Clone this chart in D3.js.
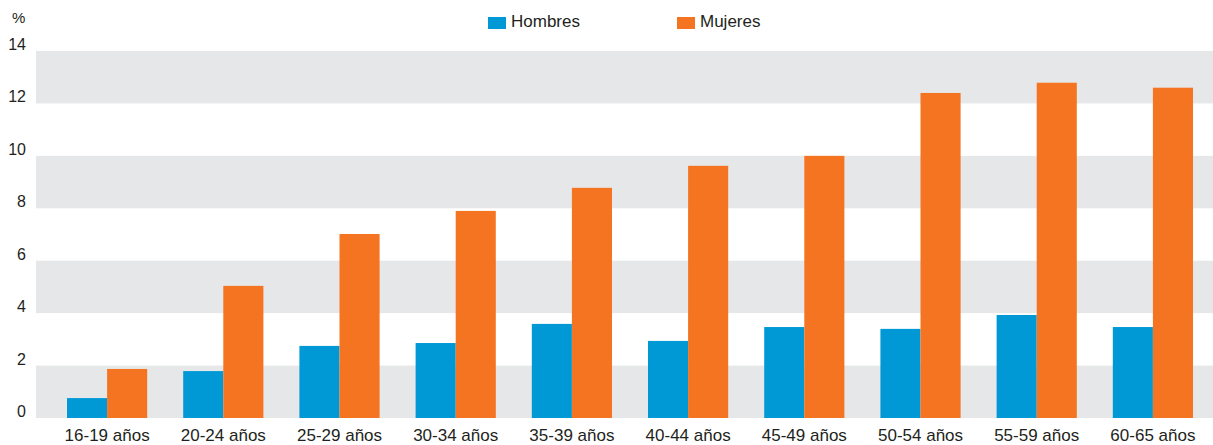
<!DOCTYPE html>
<html>
<head>
<meta charset="utf-8">
<script src="https://cdn.jsdelivr.net/npm/d3@7"></script>
<style>
  body { margin: 0; background: #fff; }
  text { font-family: "Liberation Sans", Arial, sans-serif; fill: #231f20; }
</style>
</head>
<body>
<div id="chart"></div>
<script>
const categories = ["16-19 años", "20-24 años", "25-29 años", "30-34 años", "35-39 años",
    "40-44 años", "45-49 años", "50-54 años", "55-59 años", "60-65 años"];
const hombres = [0.76, 1.79, 2.75, 2.86, 3.59, 2.94, 3.47, 3.40, 3.93, 3.47];
const mujeres = [1.87, 5.04, 7.02, 7.90, 8.78, 9.62, 10.0, 12.4, 12.79, 12.6];
const yTicks = [0, 2, 4, 6, 8, 10, 12, 14];
const seriesNames = ["Hombres", "Mujeres"];

const width = 1213, height = 445;
const colors = ["#0099d6", "#f47421"];

const svg = d3.select("#chart")
    .append("svg")
    .attr("width", width)
    .attr("height", height);

const y = d3.scaleLinear().domain([0, 14]).range([418, 51]);

const x = d3.scaleBand()
    .domain(categories)
    .range([49, 1211])
    .paddingInner(0.31)
    .paddingOuter(0.155);

const xSub = d3.scaleBand()
    .domain(seriesNames)
    .range([0, x.bandwidth()]);

// alternating grey bands
const bands = yTicks.filter((d, i) => i % 2 === 0 && i < yTicks.length - 1);
svg.selectAll(".band")
    .data(bands)
    .enter()
    .append("rect")
    .attr("class", "band")
    .attr("x", 36)
    .attr("width", width - 36)
    .attr("y", d => y(d + 2))
    .attr("height", d => y(d) - y(d + 2))
    .attr("fill", "#e6e7e8");

// y tick labels
svg.append("g")
    .selectAll("text")
    .data(yTicks)
    .enter()
    .append("text")
    .attr("x", 26)
    .attr("y", d => y(d) - 1)
    .attr("text-anchor", "end")
    .style("font-size", "16px")
    .text(d => d);

svg.append("text")
    .attr("x", 12)
    .attr("y", 23)
    .style("font-size", "15px")
    .text("%");

// bars
const groups = svg.selectAll(".group")
    .data(categories)
    .enter()
    .append("g")
    .attr("class", "group")
    .attr("transform", d => `translate(${x(d)},0)`);

groups.selectAll("rect")
    .data((d, i) => [hombres[i], mujeres[i]].map((v, j) => ({ key: seriesNames[j], value: v })))
    .enter()
    .append("rect")
    .attr("x", d => xSub(d.key))
    .attr("width", xSub.bandwidth())
    .attr("y", d => y(d.value))
    .attr("height", d => y(0) - y(d.value))
    .attr("fill", (d, j) => colors[j]);

// x labels
const xAxis = d3.axisBottom(x).tickSize(0).tickPadding(0);
const xg = svg.append("g")
    .attr("transform", `translate(0,${y(0)})`)
    .call(xAxis);
xg.select(".domain").remove();
xg.selectAll("text")
    .attr("y", 23)
    .attr("dy", 0)
    .style("font-size", "17px")
    .style("font-family", "'Liberation Sans', Arial, sans-serif")
    .attr("fill", "#231f20");

// legend
const legendX = [488, 677];
const legend = svg.selectAll(".legend")
    .data(seriesNames)
    .enter()
    .append("g")
    .attr("class", "legend")
    .attr("transform", (d, i) => `translate(${legendX[i]},17)`);

legend.append("rect")
    .attr("width", 18)
    .attr("height", 12)
    .attr("fill", (d, i) => colors[i]);

legend.append("text")
    .attr("x", 23)
    .attr("y", 10)
    .style("font-size", "17px")
    .text(d => d);
</script>
</body>
</html>
